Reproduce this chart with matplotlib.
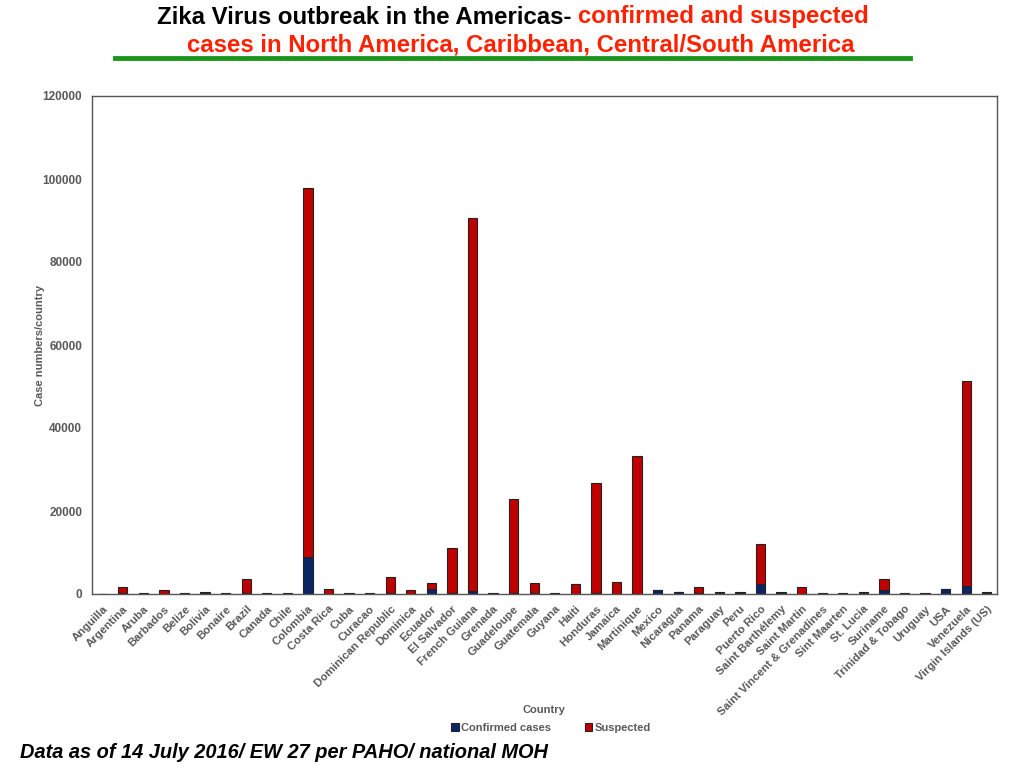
import numpy as np
import matplotlib.pyplot as plt

countries = ["Anguilla", "Argentina", "Aruba", "Barbados", "Belize", "Bolivia", "Bonaire",
             "Brazil", "Canada", "Chile", "Colombia", "Costa Rica", "Cuba", "Curacao",
             "Dominican Republic", "Dominica", "Ecuador", "El Salvador", "French Guiana",
             "Grenada", "Guadeloupe", "Guatemala", "Guyana", "Haiti", "Honduras", "Jamaica",
             "Martinique", "Mexico", "Nicaragua", "Panama", "Paraguay", "Peru", "Puerto Rico",
             "Saint Barthélemy", "Saint Martin", "Saint Vincent & Grenadines", "Sint Maarten",
             "St. Lucia", "Suriname", "Trinidad & Tobago", "Uruguay", "USA", "Venezuela",
             "Virgin Islands (US)"]

confirmed = [20, 150, 10, 50, 60, 300, 20,
             300, 60, 20, 8900, 60, 30, 10,
             200, 60, 1100, 300, 700,
             20, 300, 300, 10, 50, 200, 100,
             50, 950, 450, 300, 300, 300, 2400,
             350, 80, 20, 30,
             300, 900, 20, 10, 1200, 1900,
             350]

suspected = [100, 1600, 150, 800, 150, 150, 150,
             3300, 100, 150, 88900, 1150, 120, 150,
             3900, 800, 1500, 10800, 89900,
             120, 22600, 2300, 150, 2250, 26500, 2700,
             33200, 0, 50, 1300, 150, 200, 9650,
             100, 1700, 130, 120,
             150, 2700, 130, 120, 0, 49400,
             100]

navy = "#0b2466"
red = "#c00000"
grey = "#595959"

fig = plt.figure(figsize=(10.24, 7.68), dpi=100)
ax = fig.add_axes([92 / 1024, 1 - 594 / 768, 905 / 1024, 498 / 768])

x = np.arange(len(countries))
ax.bar(x, confirmed, width=0.45, color=navy, edgecolor="#222222", linewidth=0.8,
       label="Confirmed cases")
ax.bar(x, suspected, width=0.45, bottom=confirmed, color=red, edgecolor="#222222",
       linewidth=0.8, label="Suspected")

ax.set_xlim(-0.5, len(countries) - 0.5)
ax.set_ylim(0, 120000)
ax.set_yticks(np.arange(0, 120001, 20000))
ax.set_xticks(x)
ax.set_xticklabels(countries, rotation=45, ha="right", rotation_mode="anchor",
                   fontsize=8.2, fontweight="bold", color=grey, family="Liberation Sans")
for lab in ax.get_yticklabels():
    lab.set_fontsize(8.5)
    lab.set_fontweight("bold")
    lab.set_color(grey)
    lab.set_family("Liberation Sans")
ax.tick_params(length=0, pad=7)
for s in ax.spines.values():
    s.set_color("#555555")
    s.set_linewidth(1)

ax.set_ylabel("Case numbers/country", fontsize=8, fontweight="bold", color=grey,
              family="Liberation Sans", labelpad=-2)
fig.text(544 / 1024, 1 - 710 / 768, "Country", ha="center", va="center", fontsize=8,
         fontweight="bold", color=grey, family="Liberation Sans")

leg = fig.legend(loc="center", bbox_to_anchor=(551 / 1024, 1 - 728 / 768), ncol=2,
                 frameon=False, handlelength=0.7, handleheight=0.7, handletextpad=0.2,
                 columnspacing=3.0,
                 prop={"size": 8, "weight": "bold", "family": "Liberation Sans"})
for t in leg.get_texts():
    t.set_color(grey)

# title: black part + red part on the first line
tfont = {"family": ["Liberation Sans Narrow", "Liberation Sans"], "weight": "bold", "size": 17.3}
t1 = fig.text(0, 1 - 17 / 768, "Zika Virus outbreak in the Americas- ", color="black",
              va="center", ha="left", **tfont)
t2 = fig.text(0, 1 - 17 / 768, "confirmed and suspected", color="#ff2200",
              va="center", ha="left", **tfont)
fig.canvas.draw()
r = fig.canvas.get_renderer()
w1 = t1.get_window_extent(r).width / 1024
w2 = t2.get_window_extent(r).width / 1024
x0 = 513 / 1024 - (w1 + w2) / 2
t1.set_x(x0)
t2.set_x(x0 + w1)
fig.text(521 / 1024, 1 - 45 / 768, "cases in North America, Caribbean, Central/South America",
         color="#ff2200", va="center", ha="center", **tfont)
fig.add_artist(plt.Line2D([115 / 1024, 910 / 1024], [1 - 58 / 768, 1 - 58 / 768],
                          color="#1a961a", linewidth=3.5))

fig.text(20 / 1024, 1 - 752 / 768, "Data as of 14 July 2016/ EW 27 per PAHO/ national MOH",
         ha="left", va="center", fontsize=14.4, fontweight="bold", fontstyle="italic",
         family="Liberation Sans", color="black")

fig.savefig("out.png", dpi=100)
